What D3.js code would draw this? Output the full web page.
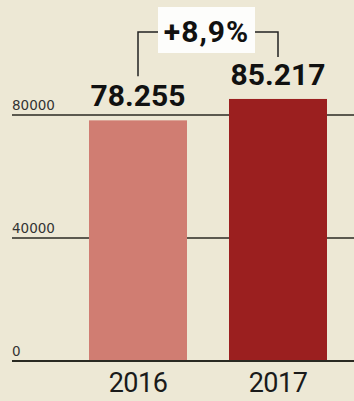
<!DOCTYPE html>
<html>
<head>
  <meta charset="utf-8">
  <script src="https://d3js.org/d3.v7.min.js"></script>
  <style>
    body { margin: 0; background: #ede8d5; }
    svg { display: block; }
  </style>
</head>
<body>
  <svg id="chart" width="354" height="401"></svg>
  <script>
    const years = ['2016', '2017'];
    const values = [78255, 85217];
    const valueLabels = ['78.255', '85.217'];
    const ticks = [0, 40000, 80000];
    const changeLabel = '+8,9%';
    const barColors = ['#d07d72', '#9b1f1f'];

    const svg = d3.select('svg#chart');
    const width = +svg.attr('width');

    svg.append('rect')
      .attr('width', width).attr('height', 401)
      .attr('fill', '#ede8d5');

    const xScale = d3.scaleBand()
      .domain(years)
      .range([68, 348])
      .paddingInner(0.3)
      .paddingOuter(0.15);

    const yScale = d3.scaleLinear()
      .domain([0, 80000])
      .range([361, 115]);

    // gridlines + tick labels
    const grid = svg.append('g');
    grid.selectAll('line').data(ticks)
      .join('line')
      .attr('x1', 12).attr('x2', width)
      .attr('y1', d => yScale(d)).attr('y2', d => yScale(d))
      .attr('stroke', '#2a2a22')
      .attr('stroke-width', d => d === 0 ? 2 : 1.5);

    grid.selectAll('text').data(ticks)
      .join('text')
      .attr('x', 12)
      .attr('y', d => yScale(d) - 5)
      .text(d => d)
      .style('font-family', 'DejaVu Sans')
      .style('font-size', '13.5px')
      .style('fill', '#333');

    // bars
    svg.selectAll('rect.bar').data(years)
      .join('rect')
      .attr('class', 'bar')
      .attr('x', d => xScale(d))
      .attr('width', xScale.bandwidth())
      .attr('y', (d, i) => yScale(values[i]))
      .attr('height', (d, i) => yScale(0) - yScale(values[i]))
      .attr('fill', (d, i) => barColors[i]);

    // redraw baseline over bars
    svg.append('line')
      .attr('x1', 12).attr('x2', width)
      .attr('y1', yScale(0)).attr('y2', yScale(0))
      .attr('stroke', '#2a2a22')
      .attr('stroke-width', 2);

    // year labels
    svg.selectAll('text.year').data(years)
      .join('text')
      .attr('class', 'year')
      .attr('x', d => xScale(d) + xScale.bandwidth() / 2)
      .attr('y', 392)
      .attr('text-anchor', 'middle')
      .text(d => d)
      .style('font-family', 'Roboto')
      .style('font-size', '27px')
      .style('letter-spacing', '-0.5px')
      .style('fill', '#1a1a1a');

    // value labels
    svg.selectAll('text.val').data(years)
      .join('text')
      .attr('class', 'val')
      .attr('x', d => xScale(d) + xScale.bandwidth() / 2)
      .attr('y', (d, i) => yScale(values[i]) - 14)
      .attr('text-anchor', 'middle')
      .text((d, i) => valueLabels[i])
      .style('font-family', 'Roboto')
      .style('font-weight', 'bold')
      .style('font-size', '30px')
      .style('fill', '#111');

    // change bracket
    const cx0 = xScale(years[0]) + xScale.bandwidth() / 2;
    const cx1 = xScale(years[1]) + xScale.bandwidth() / 2;
    const topY = 32;
    const boxL = 158, boxR = 255;
    const bottom0 = yScale(values[0]) - 44;
    const bottom1 = yScale(values[1]) - 42;

    svg.append('path')
      .attr('d', `M${cx0},${bottom0}V${topY}H${boxL}M${boxR},${topY}H${cx1}V${bottom1}`)
      .attr('fill', 'none')
      .attr('stroke', '#222')
      .attr('stroke-width', 1.5);

    svg.append('rect')
      .attr('x', boxL).attr('y', 7)
      .attr('width', boxR - boxL).attr('height', 46)
      .attr('fill', '#fdfdfb');

    svg.append('text')
      .attr('x', (boxL + boxR) / 2)
      .attr('y', 42)
      .attr('text-anchor', 'middle')
      .text(changeLabel)
      .style('font-family', 'Roboto')
      .style('font-weight', 'bold')
      .style('font-size', '30px')
      .style('letter-spacing', '1px')
      .style('fill', '#111');
  </script>
</body>
</html>
